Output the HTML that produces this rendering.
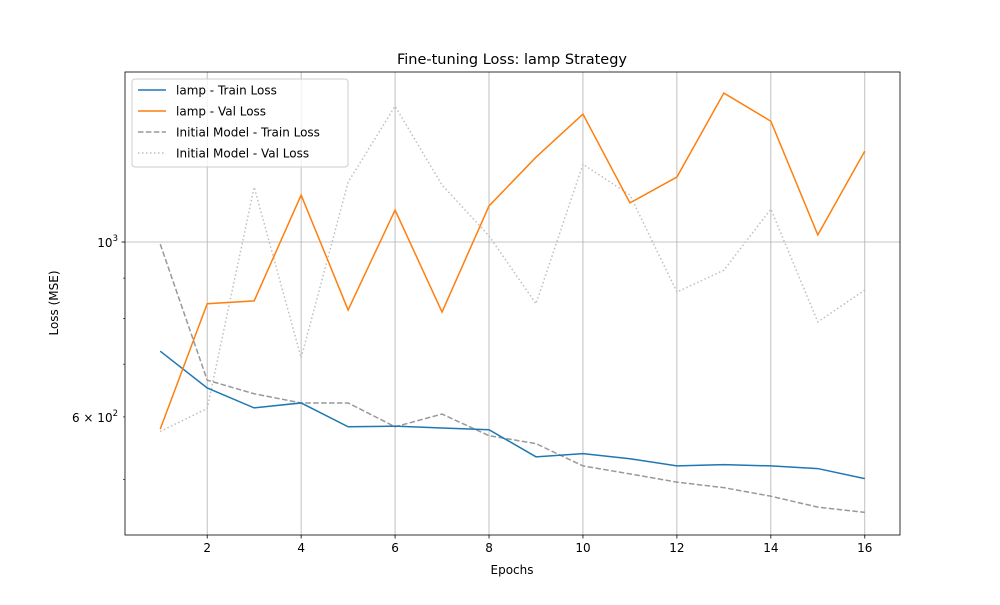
<!DOCTYPE html>
<html><head><meta charset="utf-8"><style>
body{margin:0;background:#fff;font-family:"Liberation Sans","DejaVu Sans",sans-serif;}
svg text{font-family:"DejaVu Sans","Liberation Sans",sans-serif;}
</style></head><body>
<svg id="chart" width="1000" height="600" xmlns="http://www.w3.org/2000/svg">
<rect width="1000" height="600" fill="#fff"/>
<g id="grid"></g><g id="series"></g><g id="axes"></g>
</svg>
<script>
const epochs=[1,2,3,4,5,6,7,8,9,10,11,12,13,14,15,16];
const lampTrain=[727,653,616,625,583,584,581,578,534,539,531,520,522,520,516,501];
const lampVal=[579,835,842,1147,820,1098,815,1111,1281,1453,1121,1209,1545,1423,1021,1304];
const initTrain=[994,668,642,625,625,583,605,568,555,520,508,496,488,476,461,454];
const initVal=[575,615,1174,713,1191,1487,1181,1018,835,1255,1147,864,921,1101,792,869];
const xTicks=[2,4,6,8,10,12,14,16];
const yMinorTicks=[500,600,700,800,900];
const L=125,R=900,T=72,B=535,xMin=0.25,xMax=16.75,yMin=425,yMax=1643;
const ns="http://www.w3.org/2000/svg";
const X=v=>L+(v-xMin)/(xMax-xMin)*(R-L);
const Y=v=>B-(Math.log10(v)-Math.log10(yMin))/(Math.log10(yMax)-Math.log10(yMin))*(B-T);
function mk(tag,attrs,parent,txt){const e=document.createElementNS(ns,tag);for(const k in attrs)e.setAttribute(k,attrs[k]);if(txt!==undefined)e.textContent=txt;document.getElementById(parent)?document.getElementById(parent).appendChild(e):parent.appendChild(e);return e;}
const g=document.getElementById('grid'),s=document.getElementById('series'),a=document.getElementById('axes');
xTicks.forEach(t=>{const l=mk('line',{x1:X(t),x2:X(t),y1:T,y2:B,stroke:'#b0b0b0','stroke-width':0.8},g);


mk('line',{x1:X(t),x2:X(t),y1:B,y2:B+3.5,stroke:'#000','stroke-width':0.8},a);
const tx=mk('text',{x:X(t),y:B+17,'font-size':12,'text-anchor':'middle'},a,String(t));

});
const hg=mk('line',{x1:L,x2:R,y1:Y(1000),y2:Y(1000),stroke:'#b0b0b0','stroke-width':0.8},g);


mk('line',{x1:L-3.5,x2:L,y1:Y(1000),y2:Y(1000),stroke:'#000','stroke-width':0.8},a);
const t1=mk('text',{x:L-7,y:Y(1000)+5,'font-size':12,'text-anchor':'end'},a);
t1.innerHTML='10<tspan dy="-6" font-size="8.5">3</tspan>';


yMinorTicks.forEach(t=>{mk('line',{x1:L-2,x2:L,y1:Y(t),y2:Y(t),stroke:'#000','stroke-width':0.6},a);
if(t===600){const tt=mk('text',{x:L-7,y:Y(t)+5,'font-size':12,'text-anchor':'end'},a);
tt.innerHTML='6 × 10<tspan dy="-6" font-size="8.5">2</tspan>';

}});
const frame=mk('rect',{x:L,y:T,width:R-L,height:B-T,fill:'none',stroke:'#000','stroke-width':0.8},a);


function line(vals,color,dash,name){const p=mk('polyline',{points:vals.map((v,i)=>X(epochs[i])+','+Y(v)).join(' '),fill:'none',stroke:color,'stroke-width':1.5,'stroke-dasharray':dash},s);

}
line(initVal,'#bfbfbf','1.5 2.5','initial-val-loss-line');
line(initTrain,'#999999','5.5 2.4','initial-train-loss-line');
line(lampTrain,'#1f77b4','none','lamp-train-loss-line');
line(lampVal,'#ff7f0e','none','lamp-val-loss-line');
const ti=mk('text',{x:512,y:64,'font-size':14.5,'text-anchor':'middle'},a,'Fine-tuning Loss: lamp Strategy');


const xl=mk('text',{x:512,y:574,'font-size':12,'text-anchor':'middle'},a,'Epochs');


const yl=mk('text',{x:58,y:303,'font-size':12,'text-anchor':'middle',transform:'rotate(-90 58 303)'},a,'Loss (MSE)');


const lg=mk('g',{},a);


mk('rect',{x:132,y:79,width:216,height:88,rx:3,fill:'#fff','fill-opacity':0.8,stroke:'#ccc'},lg);
[['lamp - Train Loss','#1f77b4','none'],['lamp - Val Loss','#ff7f0e','none'],['Initial Model - Train Loss','#999999','5.5 2.4'],['Initial Model - Val Loss','#bfbfbf','1.5 2.5']].forEach((e,i)=>{
const y=90+i*21;
const en=mk('g',{},lg);


mk('line',{x1:138,x2:166,y1:y,y2:y,stroke:e[1],'stroke-width':1.5,'stroke-dasharray':e[2]},en);
mk('text',{x:176,y:y+4.5,'font-size':12},en,e[0]);});
</script>
</body></html>
